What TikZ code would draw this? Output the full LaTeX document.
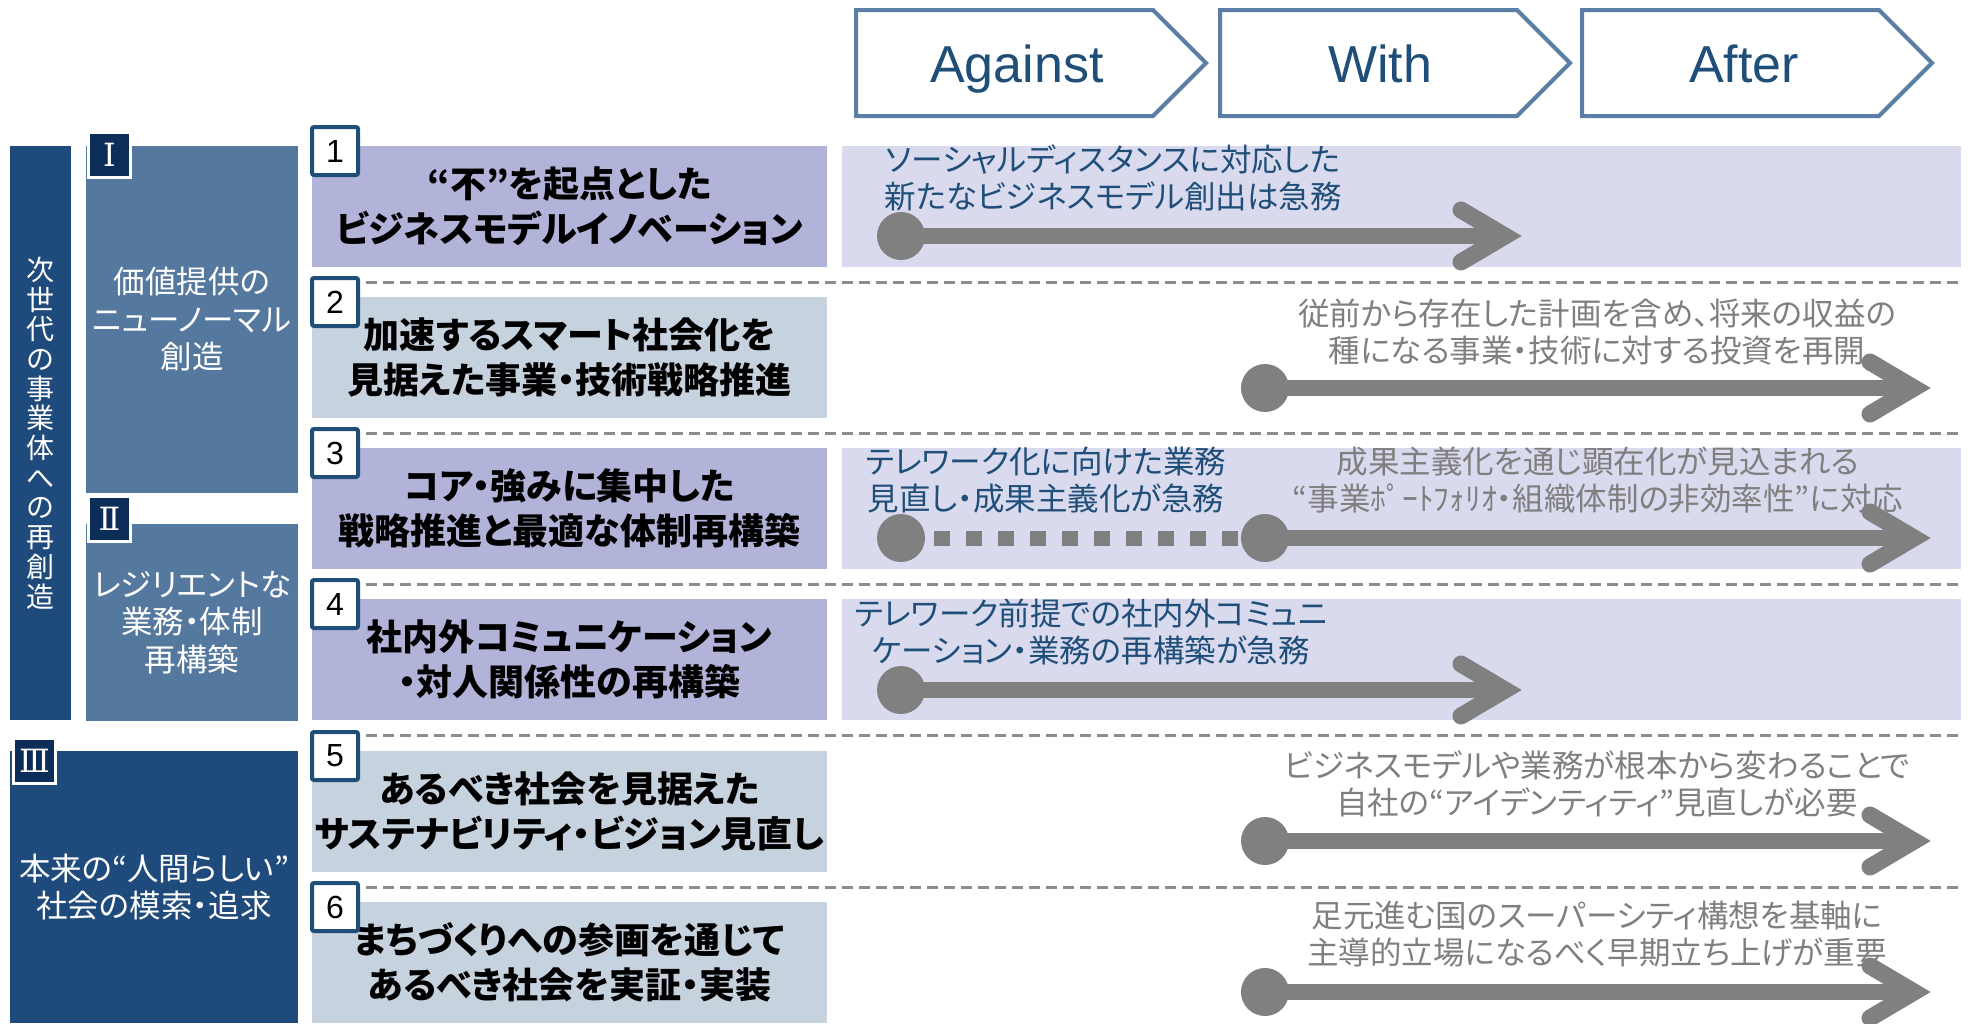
\documentclass[tikz,border=0pt]{standalone}
\usepackage{fontspec}
\setmainfont{Noto Sans CJK JP}[RawFeature=+palt]
\newfontfamily\latinsans{Liberation Sans}
\newfontfamily\romanfont{DejaVu Serif}
\usetikzlibrary{calc}
\definecolor{barblue}{HTML}{1F4A7C}
\definecolor{midblue}{HTML}{55789E}
\definecolor{romanfill}{HTML}{0B2D57}
\definecolor{itemlav}{HTML}{B1B3D8}
\definecolor{itemgray}{HTML}{C7D2DF}
\definecolor{bandlav}{HTML}{D9DAED}
\definecolor{numborder}{HTML}{1F4E79}
\definecolor{chevborder}{HTML}{5A7EA6}
\definecolor{txtblue}{HTML}{1F4E79}
\definecolor{txtgray}{HTML}{7F7F7F}
\definecolor{arrgray}{HTML}{808080}
\definecolor{dashgray}{HTML}{8C8C8C}
\newcommand\myarrow[4]{%
  \node[dotc] (#1s) at (#2,#4) {};
  \coordinate (#1v) at (#3-16,#4);
  \draw[shaftline] (#1s.center) -- (#1v);
  \draw[headline] ([shift={(-44,-26)}]#1v) -- (#1v) -- ([shift={(-44,26)}]#1v);
}
\begin{document}
\begin{tikzpicture}[x=1pt,y=-1pt,
  leftbox/.style={inner sep=0pt, outer sep=0pt, draw=none, text=white, align=center, font=\fontsize{31.5pt}{37.5pt}\selectfont},
  romanbox/.style={fill=romanfill, draw=white, line width=3pt, minimum width=42pt, minimum height=45pt, inner sep=0pt, text=white, font=\romanfont\fontsize{32pt}{32pt}\selectfont},
  itembox/.style={inner sep=0pt, outer sep=0pt, minimum width=515pt, minimum height=121pt, align=center, text=black, font=\fontsize{36pt}{45pt}\selectfont\bfseries},
  numbox/.style={fill=white, draw=numborder, line width=4pt, rounded corners=2pt, minimum width=46pt, minimum height=48pt, inner sep=0pt, font=\latinsans\fontsize{32pt}{32pt}\selectfont},
  band/.style={fill=bandlav, inner sep=0pt, minimum width=1119pt, minimum height=121pt},
  rtext/.style={align=center, inner sep=0pt, font=\fontsize{31.5pt}{37pt}\selectfont},
  chev/.style={draw=chevborder, line width=4pt, fill=white, line join=miter},
  headtxt/.style={anchor=base, inner sep=0pt, text=txtblue, font=\latinsans\fontsize{52pt}{52pt}\selectfont},
  dashline/.style={draw=dashgray, line width=3pt, dash pattern=on 11pt off 6pt},
  dotc/.style={circle, fill=arrgray, minimum size=48pt, inner sep=0pt},
  shaftline/.style={draw=arrgray, line width=16pt},
  headline/.style={draw=arrgray, line width=17pt, line cap=round, line join=miter},
  dotline/.style={draw=arrgray, line width=15pt, dash pattern=on 16pt off 16pt}
]
\useasboundingbox (0,0) rectangle (1970,1023);
\clip (0,0) rectangle (1970,1023);

% header chevrons
\draw[chev] (856,10) -- ++(297,0) -- ++(53,53) -- ++(-53,53) -- ++(-297,0) -- cycle;
\node[headtxt] (h1) at (1017,82) {Against};
\draw[chev] (1220,10) -- ++(297,0) -- ++(53,53) -- ++(-53,53) -- ++(-297,0) -- cycle;
\node[headtxt] (h2) at (1380,82) {With};
\draw[chev] (1582,10) -- ++(297,0) -- ++(53,53) -- ++(-53,53) -- ++(-297,0) -- cycle;
\node[headtxt] (h3) at (1744,82) {After};

% left column
\node[leftbox, fill=barblue, minimum width=61pt, minimum height=574pt, font=\fontsize{28pt}{29.7pt}\selectfont] (bar) at (40.5,433)
  {次\\世\\代\\の\\事\\業\\体\\へ\\の\\再\\創\\造};
\node[leftbox, fill=midblue, minimum width=212pt, minimum height=347pt] (g1) at (192,319.5)
  {価値提供の\\ニューノーマル\\創造};
\node[leftbox, fill=midblue, minimum width=212pt, minimum height=197pt] (g2) at (192,622.5)
  {レジリエントな\\業務・体制\\再構築};
\node[leftbox, fill=barblue, minimum width=288pt, minimum height=272pt] (g3) at (154,887)
  {本来の“人間らしい”\\社会の模索・追求};
\node[romanbox] (r1) at (109.5,155) {Ⅰ};
\node[romanbox] (r2) at (109.5,518.5) {Ⅱ};
\node[romanbox] (r3) at (34.5,760.5) {Ⅲ};

% right bands
\node[band] (b1) at (1401.5,206.5) {};
\node[band] (b3) at (1401.5,508.5) {};
\node[band] (b4) at (1401.5,659.5) {};

% item boxes
\node[itembox, fill=itemlav] (i1) at (569.5,206.5) {“不”を起点とした\\ビジネスモデルイノベーション};
\node[itembox, fill=itemgray] (i2) at (569.5,357.5) {加速するスマート社会化を\\見据えた事業・技術戦略推進};
\node[itembox, fill=itemlav] (i3) at (569.5,508.5) {コア・強みに集中した\\戦略推進と最適な体制再構築};
\node[itembox, fill=itemlav] (i4) at (569.5,659.5) {社内外コミュニケーション\\・対人関係性の再構築};
\node[itembox, fill=itemgray] (i5) at (569.5,811.5) {あるべき社会を見据えた\\サステナビリティ・ビジョン見直し};
\node[itembox, fill=itemgray] (i6) at (569.5,962.5) {まちづくりへの参画を通じて\\あるべき社会を実証・実装};

% number boxes
\node[numbox] (n1) at (335,151) {1};
\node[numbox] (n2) at (335,302) {2};
\node[numbox] (n3) at (335,453) {3};
\node[numbox] (n4) at (335,604) {4};
\node[numbox] (n5) at (335,756) {5};
\node[numbox] (n6) at (335,907) {6};

% separators
\draw[dashline] (366,282) -- (1960,282);
\draw[dashline] (366,433) -- (1960,433);
\draw[dashline] (366,584) -- (1960,584);
\draw[dashline] (366,735) -- (1960,735);
\draw[dashline] (366,887) -- (1960,887);

% right texts
\node[rtext, text=txtblue] (t1) at (1113,178) {ソーシャルディスタンスに対応した\\新たなビジネスモデル創出は急務};
\node[rtext, text=txtgray] (t2) at (1597,331.5) {従前から存在した計画を含め、将来の収益の\\種になる事業・技術に対する投資を再開};
\node[rtext, text=txtblue] (t3a) at (1046,480) {テレワーク化に向けた業務\\見直し・成果主義化が急務};
\node[rtext, text=txtgray] (t3b) at (1598,480) {成果主義化を通じ顕在化が見込まれる\\“事業ﾎﾟｰﾄﾌｫﾘｵ・組織体制の非効率性”に対応};
\node[rtext, text=txtblue] (t4) at (1091,631.5) {テレワーク前提での社内外コミュニ\\ケーション・業務の再構築が急務};
\node[rtext, text=txtgray] (t5) at (1597,783.5) {ビジネスモデルや業務が根本から変わることで\\自社の“アイデンティティ”見直しが必要};
\node[rtext, text=txtgray] (t6) at (1597,934) {足元進む国のスーパーシティ構想を基軸に\\主導的立場になるべく早期立ち上げが重要};

% arrows
\myarrow{a1}{901}{1521}{236}
\myarrow{a2}{1265}{1930}{388}
\node[dotc] (a3p) at (901,538) {};
\coordinate (a3d) at (1242,538);
\draw[dotline] ([xshift=9pt]a3p.east) -- (a3d);
\myarrow{a3}{1265}{1930}{538}
\myarrow{a4}{901}{1521}{690}
\myarrow{a5}{1265}{1930}{841}
\myarrow{a6}{1265}{1930}{992}
\end{tikzpicture}
\end{document}
